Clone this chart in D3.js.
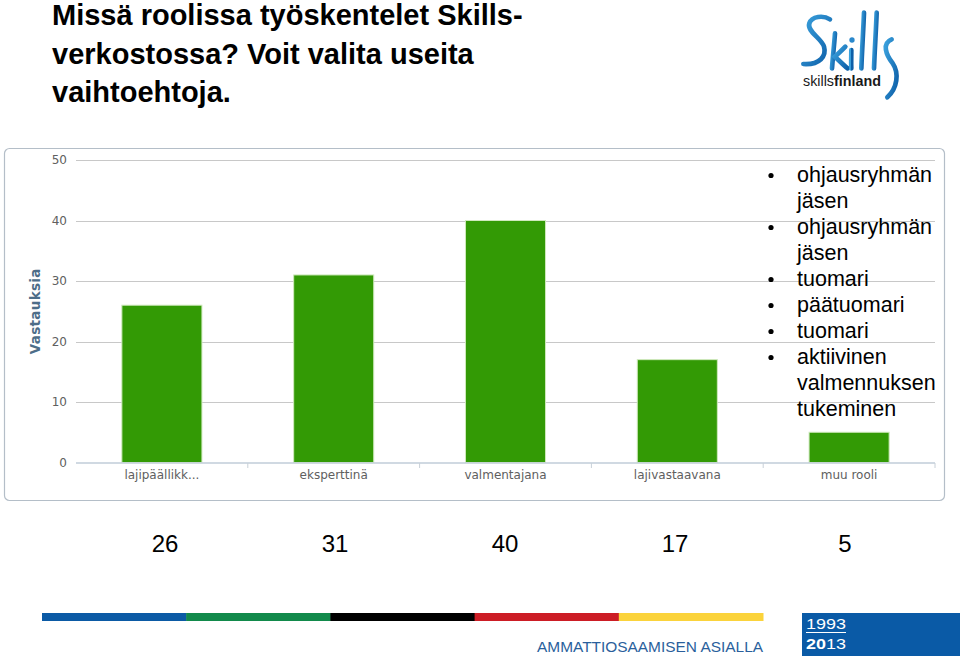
<!DOCTYPE html>
<html>
<head>
<meta charset="utf-8">
<script src="https://cdn.jsdelivr.net/npm/d3@7"></script>
<style>
  html, body { margin: 0; padding: 0; background: #fff; }
  svg { display: block; }
</style>
</head>
<body>
<svg id="chart" width="960" height="656"></svg>
<script>
// ---- data ----
const titleLines = ["Missä roolissa työskentelet Skills-", "verkostossa? Voit valita useita", "vaihtoehtoja."];
const categories = ["lajipäällikk...", "eksperttinä", "valmentajana", "lajivastaavana", "muu rooli"];
const values = [26, 31, 40, 17, 5];
const yTicks = [0, 10, 20, 30, 40, 50];
const yAxisTitle = "Vastauksia";
const legendItems = [
  ["ohjausryhmän", "jäsen"],
  ["ohjausryhmän", "jäsen"],
  ["tuomari"],
  ["päätuomari"],
  ["tuomari"],
  ["aktiivinen", "valmennuksen", "tukeminen"]
];
const stripeColors = ["#0b5aa5", "#128a4b", "#000000", "#cc1d25", "#fbd33b"];
const footerText = "AMMATTIOSAAMISEN ASIALLA";

const svg = d3.select("#chart");
const sans = "'Liberation Sans', Arial, Helvetica, sans-serif";
const uiFont = "'DejaVu Sans', Verdana, sans-serif";

// ---- title ----
svg.append("g").selectAll("text").data(titleLines).join("text")
  .attr("x", 52).attr("y", (d, i) => 25 + i * 38.5)
  .attr("font-family", sans).attr("font-weight", "bold").attr("font-size", 29)
  .attr("fill", "#000").text(d => d);

// ---- logo ----
const logo = svg.append("g").attr("transform", "translate(780,0) scale(0.3333)");
const grad = svg.append("defs").append("linearGradient").attr("id", "lg")
  .attr("x1", 0).attr("y1", 0).attr("x2", 1).attr("y2", 1);
grad.append("stop").attr("offset", "0%").attr("stop-color", "#3aa0dc");
grad.append("stop").attr("offset", "100%").attr("stop-color", "#0d5fa8");
const logoPaths = [
  "M150,58 C130,45 95,48 88,70 C80,95 125,115 132,140 C140,168 120,195 70,192",
  "M165,100 C162,140 158,175 156,205",
  "M196,140 C185,152 172,162 165,170 C178,182 190,195 203,205",
  "M214,150 C214,170 213,188 214,205",
  "M252,38 C250,90 246,150 244,205",
  "M290,38 C288,90 284,150 282,205",
  "M335,118 C305,130 318,165 338,190 C358,220 352,265 322,292"
];
logo.selectAll("path").data(logoPaths).join("path")
  .attr("d", d => d).attr("fill", "none").attr("stroke", "url(#lg)")
  .attr("stroke-width", 14).attr("stroke-linecap", "round");
logo.append("circle").attr("cx", 216).attr("cy", 120).attr("r", 8).attr("fill", "#2a88cc");
const lt = svg.append("text").attr("x", 803).attr("y", 86)
  .attr("font-family", sans).attr("font-size", 15).attr("fill", "#1a1a1a")
  .attr("textLength", 78).attr("lengthAdjust", "spacingAndGlyphs");
lt.append("tspan").text("skills");
lt.append("tspan").attr("font-weight", "bold").text("finland");

// ---- chart panel ----
svg.append("rect").attr("x", 4.5).attr("y", 148.5).attr("width", 940).attr("height", 352)
  .attr("rx", 5).attr("fill", "#fff").attr("stroke", "#b4bec8").attr("stroke-width", 1.2);

const x = d3.scaleBand().domain(categories).range([76, 935]).paddingInner(0.534).paddingOuter(0.267);
const y = d3.scaleLinear().domain([0, 50]).range([462.5, 160]);

// gridlines
svg.append("g").selectAll("line").data(yTicks.filter(t => t > 0)).join("line")
  .attr("x1", 76).attr("x2", 935)
  .attr("y1", d => Math.round(y(d)) + 0.5).attr("y2", d => Math.round(y(d)) + 0.5)
  .attr("stroke", "#c8c8c8").attr("stroke-width", 1);

// y tick labels
svg.append("g").selectAll("text").data(yTicks).join("text")
  .attr("x", 67).attr("y", d => y(d) + 4)
  .attr("text-anchor", "end").attr("font-family", uiFont).attr("font-size", 12)
  .attr("fill", "#606060").text(d => d);

// y axis title
svg.append("text").attr("transform", `translate(40,${y(25)}) rotate(-90)`)
  .attr("text-anchor", "middle").attr("font-family", uiFont).attr("font-weight", "bold")
  .attr("font-size", 13.5).attr("fill", "#4d6d88").attr("letter-spacing", 0.3).text(yAxisTitle);

// bars
svg.append("g").selectAll("rect").data(values).join("rect")
  .attr("x", (d, i) => x(categories[i])).attr("width", x.bandwidth())
  .attr("y", d => y(d)).attr("height", d => y(0) - y(d))
  .attr("fill", "#339a05").attr("stroke", "#cfe9bd").attr("stroke-width", 1);

// x axis line & ticks
svg.append("line").attr("x1", 76).attr("x2", 935).attr("y1", 463).attr("y2", 463)
  .attr("stroke", "#c0ccd8").attr("stroke-width", 1.5);
const bounds = categories.map((c, i) => x(c) - x.step() * x.paddingInner() / 2).slice(1).concat([935]);
svg.append("g").selectAll("line").data(bounds).join("line")
  .attr("x1", d => d).attr("x2", d => d).attr("y1", 463).attr("y2", 468)
  .attr("stroke", "#c8d0d8").attr("stroke-width", 1);

// category labels
svg.append("g").selectAll("text").data(categories).join("text")
  .attr("x", d => x(d) + x.bandwidth() / 2).attr("y", 479)
  .attr("text-anchor", "middle").attr("font-family", uiFont).attr("font-size", 12)
  .attr("fill", "#606060").text(d => d);

// ---- legend / bullet list ----
const lines = [];
legendItems.forEach(item => item.forEach((t, j) => lines.push({ t, bullet: j === 0 })));
const lg = svg.append("g");
lg.selectAll("text.item").data(lines).join("text").attr("class", "item")
  .attr("x", 797).attr("y", (d, i) => 182 + i * 26)
  .attr("font-family", sans).attr("font-size", 21.5).attr("fill", "#000").text(d => d.t);
lg.selectAll("circle.bul").data(lines.filter(d => d.bullet)).join("circle").attr("class", "bul")
  .attr("cx", 771).attr("cy", d => 182 + lines.indexOf(d) * 26 - 6.5)
  .attr("r", 2.6).attr("fill", "#000");

// ---- number row ----
const xn = d3.scalePoint().domain(categories).range([165, 845]);
svg.append("g").selectAll("text").data(values).join("text")
  .attr("x", (d, i) => xn(categories[i])).attr("y", 552)
  .attr("text-anchor", "middle").attr("font-family", sans).attr("font-size", 24)
  .attr("fill", "#000").text(d => d);

// ---- footer ----
const xs = d3.scaleBand().domain(d3.range(stripeColors.length)).range([42, 763]);
svg.append("g").selectAll("rect").data(stripeColors).join("rect")
  .attr("x", (d, i) => xs(i)).attr("width", xs.bandwidth() + 0.5)
  .attr("y", 613).attr("height", 8).attr("fill", d => d);
svg.append("text").attr("x", 537).attr("y", 652)
  .attr("font-family", sans).attr("font-size", 15).attr("fill", "#2a5f9c")
  .attr("textLength", 226).attr("lengthAdjust", "spacingAndGlyphs").text(footerText);
svg.append("rect").attr("x", 802).attr("y", 613).attr("width", 158).attr("height", 43).attr("fill", "#0a5aa6");
svg.append("text").attr("x", 806).attr("y", 628.5).attr("font-family", sans)
  .attr("font-size", 14.5).attr("fill", "#fff")
  .attr("textLength", 40).attr("lengthAdjust", "spacingAndGlyphs").text("1993");
svg.append("line").attr("x1", 806).attr("x2", 846).attr("y1", 632.5).attr("y2", 632.5)
  .attr("stroke", "#fff").attr("stroke-width", 1);
const y2013 = svg.append("text").attr("x", 806).attr("y", 648.5).attr("font-family", sans)
  .attr("font-size", 14.5).attr("fill", "#fff").attr("textLength", 40).attr("lengthAdjust", "spacingAndGlyphs");
y2013.append("tspan").attr("font-weight", "bold").text("20");
y2013.append("tspan").text("13");
</script>
</body>
</html>
